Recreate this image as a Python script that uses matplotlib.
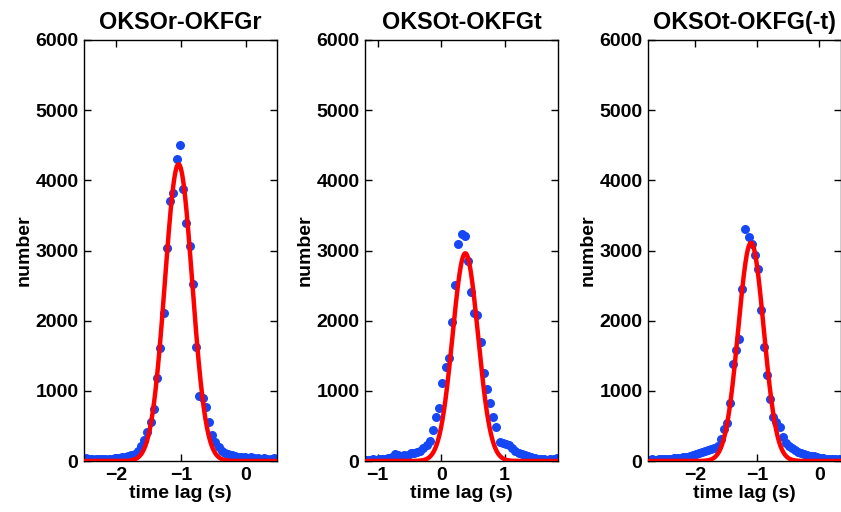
import numpy as np
import matplotlib
matplotlib.use("Agg")
import matplotlib.pyplot as plt

# ========================================
# Data
# ========================================

TITLES = ["OKSOr-OKFGr", "OKSOt-OKFGt", "OKSOt-OKFG(-t)"]
BIN_STEP = 0.05

# panel 1: first bin centre and counts
x0_r = -2.47
counts_r = [40, 30, 35, 25, 30, 25, 30, 35, 30, 40, 45, 55, 60, 70, 80, 100,
            147, 214, 300, 420, 560, 737, 1179, 1610, 2105, 3035, 3705, 3815,
            4308, 4508, 3876, 3396, 3068, 2527, 1629, 926, 893, 765, 560, 370,
            275, 204, 147, 120, 100, 85, 70, 60, 55, 50, 45, 50, 40, 45, 35,
            40, 30, 35, 40]

# panel 2
x0_t = -1.18
counts_t = [20, 20, 25, 20, 30, 30, 35, 45, 60, 100, 80, 70, 85, 90, 110, 120,
            125, 140, 180, 230, 290, 440, 630, 750, 1116, 1344, 1472, 1977,
            2508, 3088, 3235, 3207, 2850, 2413, 2105, 2081, 1692, 1258, 1022,
            831, 631, 489, 275, 252, 242, 235, 181, 140, 120, 105, 90, 75, 60,
            45, 35, 30, 25, 20, 25, 30, 40]

# panel 3
x0_mt = -2.74
counts_mt = [20, 25, 20, 25, 30, 25, 30, 35, 40, 40, 45, 55, 60, 70, 80, 100,
             115, 125, 140, 150, 166, 190, 214, 309, 451, 537, 831, 1378, 1582,
             1739, 2451, 3302, 3197, 3092, 2936, 2732, 2152, 1629, 1226, 879,
             631, 560, 489, 346, 252, 210, 181, 150, 133, 115, 100, 90, 75, 65,
             55, 47, 40, 35, 30, 30, 25, 25]

# gaussian fit parameters (amplitude, centre, sigma)
fit_r = (4230, -1.04, 0.21)
fit_t = (2960, 0.38, 0.20)
fit_mt = (3110, -1.10, 0.205)

XLIMS = [(-2.50, 0.48), (-1.20, 1.84), (-2.76, 0.35)]
XTICKS = [[-2, -1, 0], [-1, 0, 1], [-2, -1, 0]]
YTICKS = [0, 1000, 2000, 3000, 4000, 5000, 6000]

# ========================================
# Plot
# ========================================

plt.rcParams['font.family'] = ['Liberation Sans', 'DejaVu Sans']
plt.rcParams['font.weight'] = 'bold'
plt.rcParams['font.size'] = 14

fig = plt.figure(figsize=(8.41, 5.12), dpi=100)
lefts = [84 / 841, 365 / 841, 648 / 841]
width = 193 / 841
bottom = 51 / 512
height = 421 / 512

panels = [(x0_r, counts_r, fit_r), (x0_t, counts_t, fit_t), (x0_mt, counts_mt, fit_mt)]

for i, (x0, counts, fit) in enumerate(panels):
    ax = fig.add_axes([lefts[i], bottom, width, height])
    x = x0 + BIN_STEP * np.arange(len(counts))
    ax.plot(x, counts, 'o', color='#1547f5', markersize=6.5, markeredgewidth=0, zorder=2)

    amp, mu, sig = fit
    xf = np.linspace(XLIMS[i][0], XLIMS[i][1], 400)
    ax.plot(xf, amp * np.exp(-(xf - mu) ** 2 / (2 * sig ** 2)), color='red', lw=3.2, zorder=3)

    ax.set_xlim(*XLIMS[i])
    ax.set_ylim(0, 6000)
    ax.set_xticks(XTICKS[i])
    ax.set_yticks(YTICKS)
    ax.tick_params(direction='in', top=True, right=True, length=5, width=1, pad=4)
    for s in ax.spines.values():
        s.set_linewidth(1)
    ax.set_title(TITLES[i], fontweight='bold', pad=8)
    ax.set_xlabel("time lag (s)", fontweight='bold', labelpad=1)
    ax.set_ylabel("number", fontweight='bold', labelpad=2)

fig.savefig("out.png", dpi=100)
